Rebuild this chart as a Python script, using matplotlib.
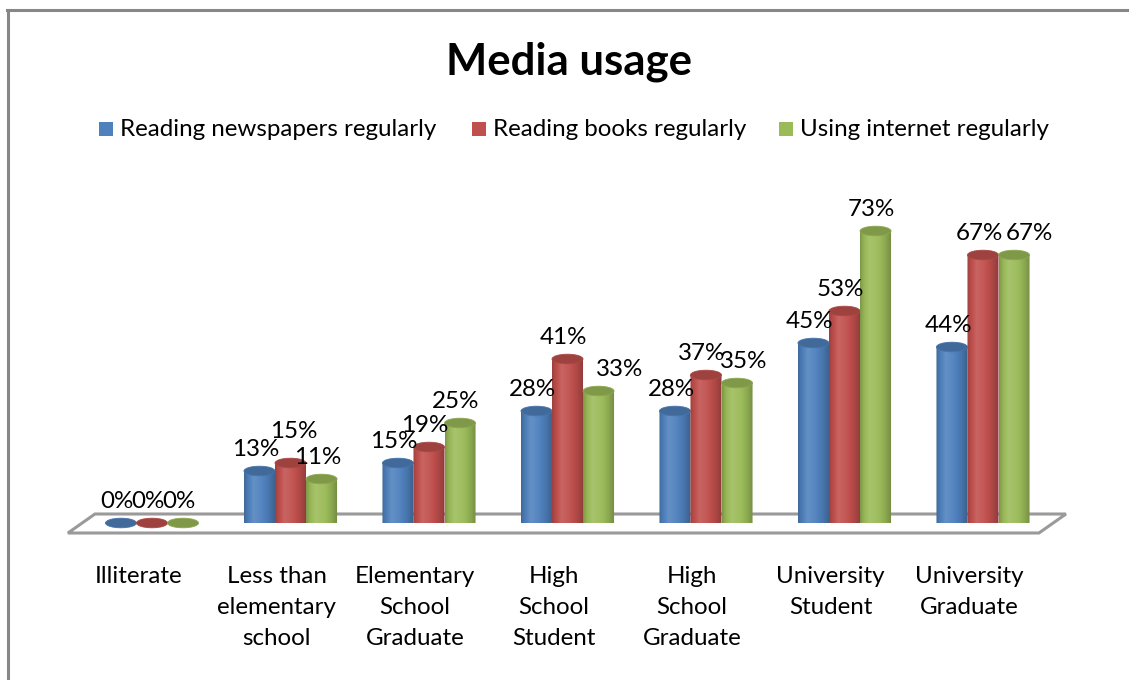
import numpy as np
import matplotlib
matplotlib.use('Agg')
import matplotlib.pyplot as plt
from matplotlib.patches import Ellipse, Polygon, Rectangle
from matplotlib.lines import Line2D
from matplotlib.colors import to_rgb
from matplotlib.transforms import blended_transform_factory

plt.rcParams['font.family'] = ['Lato', 'DejaVu Sans']

# data
categories = ['Illiterate', 'Less than\nelementary\nschool', 'Elementary\nSchool\nGraduate',
              'High\nSchool\nStudent', 'High\nSchool\nGraduate', 'University\nStudent',
              'University\nGraduate']
series = ['Reading newspapers regularly', 'Reading books regularly', 'Using internet regularly']
newspapers = [0, 13, 15, 28, 28, 45, 44]
books = [0, 15, 19, 41, 37, 53, 67]
internet = [0, 11, 25, 33, 35, 73, 67]
colors = ['#4F81BD', '#C0504D', '#9BBB59']

W, H = 1129, 680
FS = 17.4
fig = plt.figure(figsize=(W / 100, H / 100), dpi=100)
fig.patch.set_facecolor('white')


def fx(x):
    return x / W


def fy(y):
    return 1 - y / H


# plot area: one category per unit, 4 px per percent
ax = fig.add_axes([fx(82.75), fy(523), 969.5 / W, 320 / H])
ax.set_xlim(-0.5, 6.5)
ax.set_ylim(0, 80)
ax.axis('off')

bar_w = 0.224      # width of one cylinder in category units
ell_h = 2.4        # height of the cylinder ends in percent units

# floor of the 3d plot
floor_front, floor_back = -2.5, 2.25
floor_left, floor_right, floor_skew = -0.607, 6.404, 0.195
floor = Polygon([(floor_left, floor_front), (floor_right, floor_front),
                 (floor_right + floor_skew, floor_back), (floor_left + floor_skew, floor_back)],
                closed=True, facecolor='white', edgecolor='#9a9a9a', lw=2.2,
                clip_on=False, zorder=1)
ax.add_patch(floor)


def shade(rgb, f):
    rgb = np.asarray(rgb)
    if f >= 1:
        return rgb + (1 - rgb) * (f - 1)
    return rgb * f


t = np.linspace(0, 1, 80)
profile = np.interp(t, [0, 0.08, 0.3, 0.55, 0.8, 0.95, 1],
                    [0.8, 0.92, 1.12, 1.04, 0.9, 0.78, 0.72])


def cylinder(xc, v, color, z):
    rgb = to_rgb(color)
    x0, x1 = xc - bar_w / 2, xc + bar_w / 2
    ang = np.linspace(np.pi, 2 * np.pi, 40)
    bottom = np.column_stack([xc + bar_w / 2 * np.cos(ang), ell_h / 2 * np.sin(ang)])
    body = np.vstack([bottom, [(x1, v), (x0, v)]])
    clip = Polygon(body, closed=True, transform=ax.transData, facecolor='none', edgecolor='none')
    ax.add_patch(clip)
    img = np.array([[shade(rgb, f) for f in profile]])
    im = ax.imshow(img, extent=[x0, x1, -ell_h / 2, v], aspect='auto',
                   interpolation='bilinear', zorder=z, clip_on=True)
    im.set_clip_path(clip)
    top = Ellipse((xc, v), bar_w, ell_h, facecolor=shade(rgb, 0.82),
                  edgecolor=shade(rgb, 0.9), lw=0.6, zorder=z + 0.1, clip_on=False)
    ax.add_patch(top)


# label nudges (dx, dy in pixels) for a few crowded labels
nudges = {(1, 1): (3, 33), (3, 2): (21, 23), (4, 2): (7, 23), (6, 2): (15, 23)}

values = [newspapers, books, internet]
for k, vals in enumerate(values):
    for i, v in enumerate(vals):
        xc = i + (k - 1) * bar_w
        cylinder(xc, v, colors[k], 2 + i * 3 + k)
        dx, dy = nudges.get((i, k), (-4, 23))
        ax.annotate(f'{v}%', (xc, v), xytext=(dx, dy), textcoords='offset pixels',
                    ha='center', va='center_baseline', fontsize=FS, color='black',
                    zorder=50, annotation_clip=False)

ax.set_xlim(-0.5, 6.5)
ax.set_ylim(0, 80)

# category labels, one text per line
trans = blended_transform_factory(ax.transData, fig.transFigure)
for i, label in enumerate(categories):
    for j, line in enumerate(label.split('\n')):
        ax.text(i - 0.1, fy(583 + 31 * j), line, transform=trans, ha='center',
                va='baseline', fontsize=FS, color='black')

# title
fig.text(fx(569), fy(75), 'Media usage', ha='center', va='baseline',
         fontsize=31.5, fontweight='bold', color='black')

# legend
legend_x = [99, 472, 779]
for k, name in enumerate(series):
    fig.add_artist(Rectangle((fx(legend_x[k]), fy(136)), 14 / W, 14 / H,
                             transform=fig.transFigure, facecolor=colors[k], edgecolor='none'))
    fig.text(fx(legend_x[k] + 21), fy(136), name, ha='left', va='baseline',
             fontsize=FS, color='black')

# chart border (left and top edges)
fig.add_artist(Line2D([fx(7.5), fx(7.5)], [fy(9.5), 0], color='#878787', lw=2.2,
                      transform=fig.transFigure))
fig.add_artist(Line2D([fx(6.5), 1], [fy(10), fy(10)], color='#878787', lw=2.2,
                      transform=fig.transFigure))

fig.savefig('out.png', dpi=100, facecolor='white')
